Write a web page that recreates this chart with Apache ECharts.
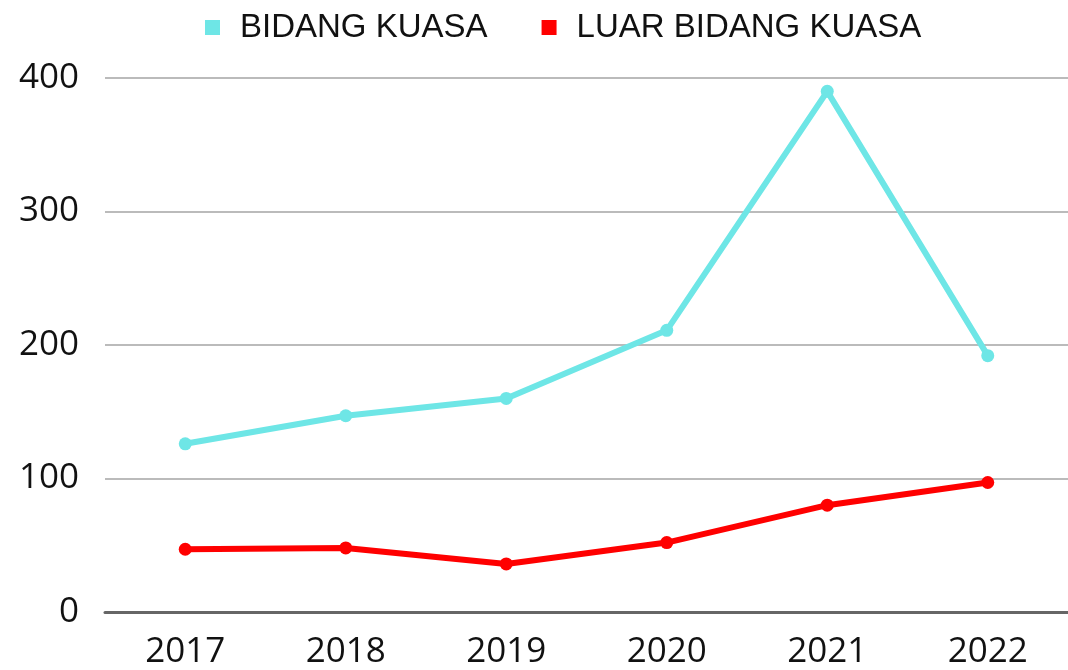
<!DOCTYPE html>
<html>
<head>
<meta charset="UTF-8">
<title>Bidang Kuasa</title>
<style>
  html, body { margin: 0; padding: 0; background: #fff; }
  #main { width: 1068px; height: 670px; }
</style>
</head>
<body>
<div id="main"></div>
<script src="https://cdn.jsdelivr.net/npm/echarts@6/dist/echarts.min.js"></script>
<script>
var years = ['2017', '2018', '2019', '2020', '2021', '2022'];
var bidangKuasa = [126, 147, 160, 211, 390, 192];
var luarBidangKuasa = [47, 48, 36, 52, 80, 97];
var yTicks = [0, 100, 200, 300, 400];

var chart = echarts.init(document.getElementById('main'));
chart.setOption({
  animation: false,
  color: ['#6ee6e6', '#ff0000'],
  legend: {
    top: 6,
    left: 200,
    itemWidth: 15,
    itemHeight: 15,
    itemGap: 54,
    icon: 'rect',
    textStyle: {
      fontFamily: 'Liberation Sans, sans-serif',
      fontSize: 33,
      color: '#111',
      padding: [0, 0, 0, 15]
    },
    data: ['BIDANG KUASA', 'LUAR BIDANG KUASA']
  },
  grid: { left: 105, right: -5, top: 78, bottom: 58 },
  xAxis: {
    type: 'category',
    data: years,
    axisLine: { lineStyle: { color: '#666', width: 3 } },
    axisTick: { show: false },
    axisLabel: { fontFamily: 'Open Sans, sans-serif', fontSize: 35, color: '#111', margin: 23 }
  },
  yAxis: {
    type: 'value',
    min: yTicks[0],
    max: yTicks[yTicks.length - 1],
    interval: 100,
    axisLabel: { fontFamily: 'Open Sans, sans-serif', fontSize: 35, color: '#111', margin: 26 },
    splitLine: { lineStyle: { color: '#bbb', width: 2 } }
  },
  series: [
    {
      name: 'BIDANG KUASA',
      type: 'line',
      data: bidangKuasa,
      symbol: 'circle',
      symbolSize: 13,
      lineStyle: { width: 6 }
    },
    {
      name: 'LUAR BIDANG KUASA',
      type: 'line',
      data: luarBidangKuasa,
      symbol: 'circle',
      symbolSize: 13,
      lineStyle: { width: 6 }
    }
  ]
});
</script>
</body>
</html>
